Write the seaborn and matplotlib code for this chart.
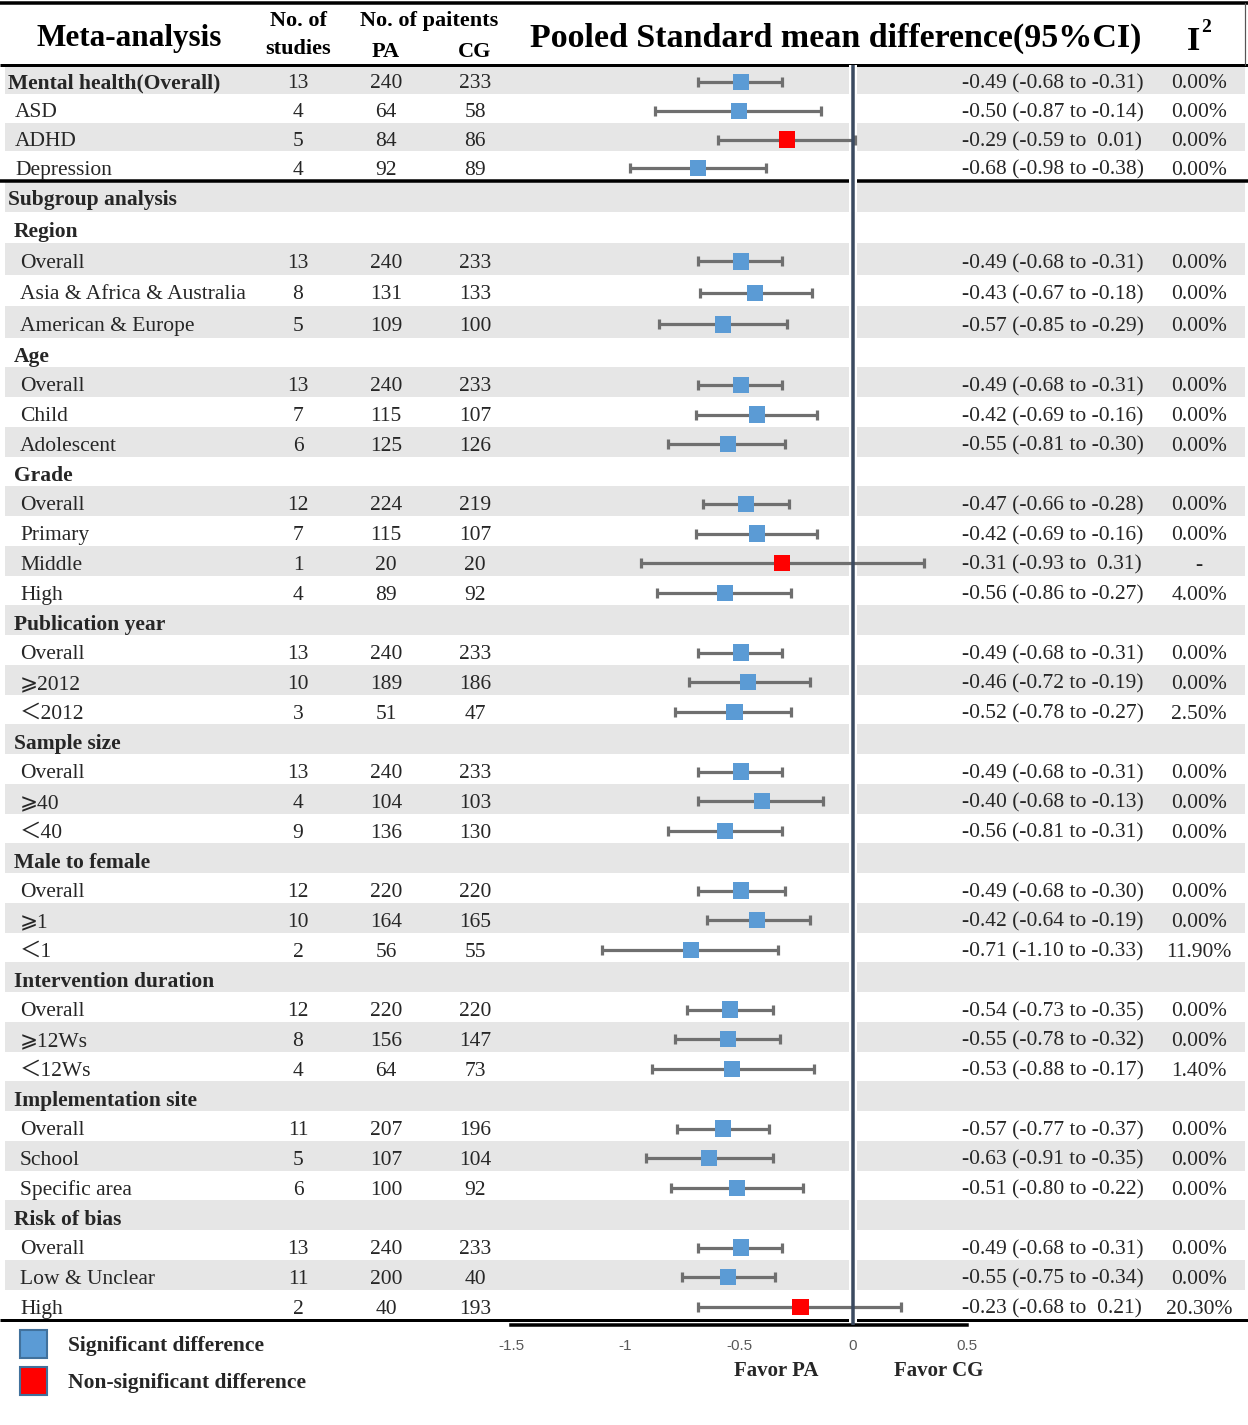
import numpy as np
import pandas as pd
import matplotlib
matplotlib.use("Agg")
import matplotlib.pyplot as plt
from matplotlib.patches import Patch
import seaborn as sns

nan = np.nan

# ---------------- data ----------------
labels = ["Mental health(Overall)", "ASD", "ADHD", "Depression",
          "Subgroup analysis",
          "Region", "Overall", "Asia & Africa & Australia", "American & Europe",
          "Age", "Overall", "Child", "Adolescent",
          "Grade", "Overall", "Primary", "Middle", "High",
          "Publication year", "Overall", "⩾2012", "＜2012",
          "Sample size", "Overall", "⩾40", "＜40",
          "Male to female", "Overall", "⩾1", "＜1",
          "Intervention duration", "Overall", "⩾12Ws", "＜12Ws",
          "Implementation site", "Overall", "School", "Specific area",
          "Risk of bias", "Overall", "Low & Unclear", "High"]
kinds = (["main", "item", "item", "item", "group"]
         + ["section", "sub", "sub", "sub"] * 2
         + ["section", "sub", "sub", "sub", "sub"]
         + ["section", "sub", "sub", "sub"] * 6)
n_studies = [13, 4, 5, 4, None,
             None, 13, 8, 5, None, 13, 7, 6, None, 12, 7, 1, 4,
             None, 13, 10, 3, None, 13, 4, 9, None, 12, 10, 2,
             None, 12, 8, 4, None, 11, 5, 6, None, 13, 11, 2]
n_pa = [240, 64, 84, 92, None,
        None, 240, 131, 109, None, 240, 115, 125, None, 224, 115, 20, 89,
        None, 240, 189, 51, None, 240, 104, 136, None, 220, 164, 56,
        None, 220, 156, 64, None, 207, 107, 100, None, 240, 200, 40]
n_cg = [233, 58, 86, 89, None,
        None, 233, 133, 100, None, 233, 107, 126, None, 219, 107, 20, 92,
        None, 233, 186, 47, None, 233, 103, 130, None, 220, 165, 55,
        None, 220, 147, 73, None, 196, 104, 92, None, 233, 40, 193]
smd = [-0.49, -0.50, -0.29, -0.68, nan,
       nan, -0.49, -0.43, -0.57, nan, -0.49, -0.42, -0.55, nan, -0.47, -0.42, -0.31, -0.56,
       nan, -0.49, -0.46, -0.52, nan, -0.49, -0.40, -0.56, nan, -0.49, -0.42, -0.71,
       nan, -0.54, -0.55, -0.53, nan, -0.57, -0.63, -0.51, nan, -0.49, -0.55, -0.23]
ci_low = [-0.68, -0.87, -0.59, -0.98, nan,
          nan, -0.68, -0.67, -0.85, nan, -0.68, -0.69, -0.81, nan, -0.66, -0.69, -0.93, -0.86,
          nan, -0.68, -0.72, -0.78, nan, -0.68, -0.68, -0.81, nan, -0.68, -0.64, -1.10,
          nan, -0.73, -0.78, -0.88, nan, -0.77, -0.91, -0.80, nan, -0.68, -0.75, -0.68]
ci_high = [-0.31, -0.14, 0.01, -0.38, nan,
           nan, -0.31, -0.18, -0.29, nan, -0.31, -0.16, -0.30, nan, -0.28, -0.16, 0.31, -0.27,
           nan, -0.31, -0.19, -0.27, nan, -0.31, -0.13, -0.31, nan, -0.30, -0.19, -0.33,
           nan, -0.35, -0.32, -0.17, nan, -0.37, -0.35, -0.22, nan, -0.31, -0.34, 0.21]
i2 = ["0.00%", "0.00%", "0.00%", "0.00%", "",
      "", "0.00%", "0.00%", "0.00%", "", "0.00%", "0.00%", "0.00%",
      "", "0.00%", "0.00%", "-", "4.00%", "", "0.00%", "0.00%", "2.50%",
      "", "0.00%", "0.00%", "0.00%", "", "0.00%", "0.00%", "11.90%",
      "", "0.00%", "0.00%", "1.40%", "", "0.00%", "0.00%", "0.00%",
      "", "0.00%", "0.00%", "20.30%"]
x_ticks = [-1.5, -1, -0.5, 0, 0.5]
x_tick_labels = ["-1.5", "-1", "-0.5", "0", "0.5"]

# ---------------- style ----------------
sns.set_theme(style="white")
SERIF = ["Liberation Serif", "DejaVu Sans", "Noto Sans CJK SC"]
plt.rcParams["font.family"] = SERIF

W, H = 1248, 1425
PX = 0.72  # px -> pt at dpi 100
GRAY_BG = "#e6e6e6"
BLUE = "#5b9bd5"
RED = "#ff0000"
BAR = "#6f6f6f"
ZERO = "#3b4a60"

fig = plt.figure(figsize=(W / 100, H / 100), dpi=100, facecolor="white")
bg = fig.add_axes([0, 0, 1, 1])
bg.set_xlim(0, W)
bg.set_ylim(H, 0)
bg.axis("off")

# row layout (pixel units)
row_h = np.array([28.8] * 4 + [31.5] * 5 + [29.75] * 33)
edges = 65 + np.concatenate([[0], np.cumsum(row_h)])
mids = (edges[:-1] + edges[1:]) / 2
text_y = mids + 4.5
mark_y = mids + 2.5

n_rows = len(labels)
# shading
for i in range(n_rows):
    k = i if i < 4 else i - 4
    if k % 2 == 0:
        bg.fill_between([5, 849], edges[i], edges[i + 1], color=GRAY_BG, lw=0, zorder=0)
        bg.fill_between([857, 1245], edges[i], edges[i + 1], color=GRAY_BG, lw=0, zorder=0)

# horizontal rules
bg.plot([0, W], [3, 3], color="black", lw=3.5 * PX, solid_capstyle="butt")
bg.plot([0, W], [64.5, 64.5], color="black", lw=3 * PX, solid_capstyle="butt")
bg.plot([0, W], [edges[4] + 0.8, edges[4] + 0.8], color="black", lw=3.5 * PX, solid_capstyle="butt")
bg.plot([0, W], [edges[-1] + 0.5, edges[-1] + 0.5], color="black", lw=3 * PX, solid_capstyle="butt")
bg.plot([1245, 1245], [3, 64.5], color="#555555", lw=1.2 * PX)

# header
hdr = dict(fontweight="bold", family=SERIF, va="center", ha="center", color="black")
bg.text(129, 38, "Meta-analysis", fontsize=22.5, **hdr)
bg.text(298, 21, "No. of", fontsize=16, **hdr)
bg.text(298, 49, "studies", fontsize=16, **hdr)
bg.text(429, 21, "No. of paitents", fontsize=16, **hdr)
bg.text(386, 52, "PA", fontsize=16, **hdr)
bg.text(475, 52, "CG", fontsize=16, **hdr)
bg.text(836, 38, "Pooled Standard mean difference(95%CI)", fontsize=24.5, **hdr)
bg.text(1194, 41, "I", fontsize=24.5, **hdr)
bg.text(1206, 27, "2", fontsize=14, **hdr)

# table text
indent = {"main": 8, "item": 15, "group": 8, "section": 14, "sub": 20}
bold_kinds = {"main", "group", "section"}
FS = 15.5
for i in range(n_rows):
    y = text_y[i]
    kind = kinds[i]
    bg.text(indent[kind], y, labels[i], fontsize=FS, family=SERIF,
            fontweight="bold" if kind in bold_kinds else "normal", ha="left", va="center")
    if n_studies[i] is None:
        continue
    bg.text(298, y, str(n_studies[i]), fontsize=FS, family=SERIF, ha="center", va="center")
    bg.text(386, y, str(n_pa[i]), fontsize=FS, family=SERIF, ha="center", va="center")
    bg.text(475, y, str(n_cg[i]), fontsize=FS, family=SERIF, ha="center", va="center")
    hi_s = f"{ci_high[i]:.2f}" if ci_high[i] < 0 else f" {ci_high[i]:.2f}"
    s = f"{smd[i]:.2f} ({ci_low[i]:.2f} to {hi_s})"
    bg.text(962, y, s, fontsize=FS, family=SERIF, ha="left", va="center")
    bg.text(1199, y, i2[i], fontsize=FS, family=SERIF, ha="center", va="center")

# ---------------- forest axes ----------------
x0_px, x1_px = 511, 967
y_top, y_bot = 65, 1325
axf = fig.add_axes([x0_px / W, (H - y_bot) / H, (x1_px - x0_px) / W, (y_bot - y_top) / H])
axf.patch.set_alpha(0)
axf.set_xlim(-1.5, 0.5)
axf.set_ylim(y_bot, y_top)

df = pd.DataFrame({"y": mark_y, "smd": smd, "lo": ci_low, "hi": ci_high}).dropna()
df["sig"] = np.where((df["hi"] < 0) | (df["lo"] > 0), "Significant", "Non-significant")

axf.axvline(0, color="white", lw=8 * PX, zorder=1)
axf.errorbar(df["smd"], df["y"], xerr=[df["smd"] - df["lo"], df["hi"] - df["smd"]],
             fmt="none", ecolor=BAR, elinewidth=3.2 * PX, capsize=3.6, capthick=3.2 * PX, zorder=2)
axf.axvline(0, color=ZERO, lw=3.5 * PX, zorder=3)
sns.scatterplot(data=df, x="smd", y="y", hue="sig",
                palette={"Significant": BLUE, "Non-significant": RED},
                marker="s", s=136, linewidth=0, legend=False, ax=axf, zorder=4)

for side in ["top", "left", "right"]:
    axf.spines[side].set_visible(False)
axf.spines["bottom"].set_color("black")
axf.spines["bottom"].set_linewidth(3.5 * PX)
axf.set_xticks(x_ticks)
axf.set_xticklabels(x_tick_labels, family="Liberation Sans", fontsize=11, color="#595959")
axf.tick_params(axis="x", length=0, pad=10)
axf.set_yticks([])
axf.set_xlabel("")
axf.set_ylabel("")

# favor labels
bg.text(776, 1371, "Favor PA", fontsize=15, fontweight="bold", family=SERIF, ha="center", va="center")
bg.text(939, 1371, "Favor CG", fontsize=15, fontweight="bold", family=SERIF, ha="center", va="center")

# legend
handles = [Patch(facecolor=BLUE, edgecolor="#41719c", lw=1.5, label="Significant difference"),
           Patch(facecolor=RED, edgecolor="#41719c", lw=1.5, label="Non-significant difference")]
bg.legend(handles=handles, loc="upper left", bbox_to_anchor=(20 / W, 1 - 1330 / H),
          frameon=False, borderpad=0, borderaxespad=0, handlelength=1.25, handleheight=1.6,
          handletextpad=1.0, labelspacing=0.45,
          prop={"family": SERIF, "weight": "bold", "size": 15.5})

fig.savefig("out.png", dpi=100, facecolor="white")
